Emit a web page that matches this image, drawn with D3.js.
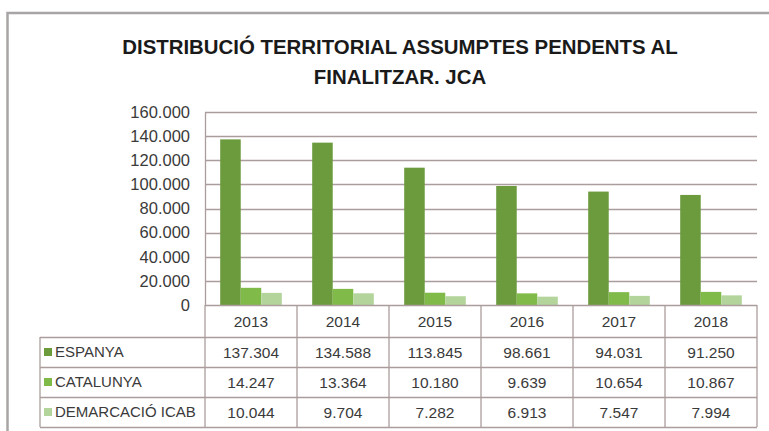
<!DOCTYPE html>
<html>
<head>
<meta charset="utf-8">
<script src="https://cdn.jsdelivr.net/npm/d3@7"></script>
<style>
  body { margin: 0; background: #fff; }
  text { font-family: "Liberation Sans", Arial, sans-serif; fill: #3a3a3a; }
  .title { font-weight: bold; fill: #1a1a1a; }
</style>
</head>
<body>
<div id="chart-area"></div>
<script>
const years = ["2013", "2014", "2015", "2016", "2017", "2018"];
const seriesNames = ["ESPANYA", "CATALUNYA", "DEMARCACIÓ ICAB"];
const espanya = [137304, 134588, 113845, 98661, 94031, 91250];
const catalunya = [14247, 13364, 10180, 9639, 10654, 10867];
const demarcacio = [10044, 9704, 7282, 6913, 7547, 7994];
const yTicks = [0, 20000, 40000, 60000, 80000, 100000, 120000, 140000, 160000];
const titleLines = ["DISTRIBUCIÓ TERRITORIAL ASSUMPTES PENDENTS AL", "FINALITZAR. JCA"];

const colors = ["#6b9b3d", "#80bb49", "#b3d59c"];
const lineColor = "#ab9d9d";

const chartSize = { width: 769, height: 431 };
const plot = { left: 205, right: 757, top: 112, bottom: 305 };
const table = { left: 40, headerBottom: 337, rowHeight: 30 };

const locale = d3.formatLocale({ decimal: ",", thousands: ".", grouping: [3], currency: ["", ""] });
const fmt = locale.format(",d");

const main = () => {
  const allSeries = [espanya, catalunya, demarcacio];

  const svg = d3
    .select("#chart-area")
    .append("svg")
    .attr("width", chartSize.width)
    .attr("height", chartSize.height);

  svg.append("rect")
    .attr("width", chartSize.width)
    .attr("height", chartSize.height)
    .attr("fill", "#fff");

  // outer frame (right and bottom edges are cut off in the original)
  svg.append("rect")
    .attr("x", 7.5)
    .attr("y", 13)
    .attr("width", 800)
    .attr("height", 440)
    .attr("fill", "none")
    .attr("stroke", "#a9a5a5")
    .attr("stroke-width", 2.5);

  // title, fitted to its measured width
  const title = svg.append("g");
  title.selectAll("text")
    .data(titleLines)
    .join("text")
    .attr("class", "title")
    .attr("x", 400)
    .attr("y", (d, i) => 54 + i * 30)
    .attr("text-anchor", "middle")
    .style("font-size", "20px")
    .text(d => d);
  const firstLine = title.select("text").node();
  const size = 20 * 556 / firstLine.getComputedTextLength();
  title.selectAll("text").style("font-size", size + "px");

  const x = d3.scaleBand().domain(years).range([plot.left, plot.right]);
  const x1 = d3.scaleBand().domain(seriesNames).range([0, x.bandwidth()]).paddingOuter(0.74);
  const y = d3.scaleLinear().domain([0, 160000]).range([plot.bottom, plot.top]);

  // gridlines
  svg.append("g")
    .selectAll("line")
    .data(yTicks.filter(t => t > 0))
    .join("line")
    .attr("x1", plot.left)
    .attr("x2", plot.right)
    .attr("y1", d => Math.round(y(d)) + 0.5)
    .attr("y2", d => Math.round(y(d)) + 0.5)
    .attr("stroke", lineColor)
    .attr("stroke-width", 1.3);

  // y axis
  const yAxis = d3.axisLeft(y).tickValues(yTicks).tickFormat(fmt).tickSize(0).tickPadding(15);
  const yG = svg.append("g").attr("transform", `translate(${plot.left},0)`).call(yAxis);
  yG.select(".domain").attr("stroke", lineColor).attr("stroke-width", 1.3);
  yG.selectAll("text")
    .style("font-family", "Liberation Sans, Arial, sans-serif")
    .style("font-size", "16.5px")
    .attr("fill", "#3a3a3a");

  // bars
  const groups = svg.append("g")
    .selectAll("g")
    .data(years)
    .join("g")
    .attr("transform", d => `translate(${x(d)},0)`);

  groups.selectAll("rect")
    .data((d, i) => seriesNames.map((s, k) => ({ s, k, v: allSeries[k][i] })))
    .join("rect")
    .attr("x", d => x1(d.s))
    .attr("width", x1.bandwidth())
    .attr("y", d => y(d.v))
    .attr("height", d => y(0) - y(d.v))
    .attr("fill", d => colors[d.k]);

  // data table
  const tableG = svg.append("g");
  const rowTop = i => table.headerBottom + i * table.rowHeight;
  const tableBottom = rowTop(seriesNames.length);

  const hLines = [plot.bottom, table.headerBottom, rowTop(1), rowTop(2), tableBottom];
  tableG.selectAll("line.h")
    .data(hLines)
    .join("line")
    .attr("class", "h")
    .attr("x1", (d, i) => (i === 0 ? plot.left : table.left))
    .attr("x2", plot.right)
    .attr("y1", d => d + 0.5)
    .attr("y2", d => d + 0.5)
    .attr("stroke", lineColor)
    .attr("stroke-width", 1.3);

  const vLines = years.map(d => x(d)).concat([plot.right]);
  tableG.selectAll("line.v")
    .data(vLines)
    .join("line")
    .attr("class", "v")
    .attr("x1", d => d)
    .attr("x2", d => d)
    .attr("y1", plot.bottom)
    .attr("y2", tableBottom)
    .attr("stroke", lineColor)
    .attr("stroke-width", 1.3);

  tableG.append("line")
    .attr("x1", table.left)
    .attr("x2", table.left)
    .attr("y1", table.headerBottom)
    .attr("y2", tableBottom)
    .attr("stroke", lineColor)
    .attr("stroke-width", 1.3);

  tableG.selectAll("text.year")
    .data(years)
    .join("text")
    .attr("class", "year")
    .attr("x", d => x(d) + x.bandwidth() / 2)
    .attr("y", (plot.bottom + table.headerBottom) / 2)
    .attr("dy", "0.36em")
    .attr("text-anchor", "middle")
    .style("font-size", "15.5px")
    .text(d => d);

  const rows = tableG.selectAll("g.row")
    .data(seriesNames)
    .join("g")
    .attr("class", "row")
    .attr("transform", (d, i) => `translate(0,${rowTop(i) + table.rowHeight / 2})`);

  rows.append("rect")
    .attr("x", table.left + 4)
    .attr("y", -4)
    .attr("width", 8)
    .attr("height", 8)
    .attr("fill", (d, i) => colors[i]);

  rows.append("text")
    .attr("x", table.left + 15)
    .attr("dy", "0.36em")
    .style("font-size", "15px")
    .text(d => d);

  rows.selectAll("text.val")
    .data((d, i) => allSeries[i])
    .join("text")
    .attr("class", "val")
    .attr("x", (d, i) => x(years[i]) + x.bandwidth() / 2)
    .attr("dy", "0.36em")
    .attr("text-anchor", "middle")
    .style("font-size", "15.5px")
    .text(d => fmt(d));
};

window.onload = main;
</script>
</body>
</html>
